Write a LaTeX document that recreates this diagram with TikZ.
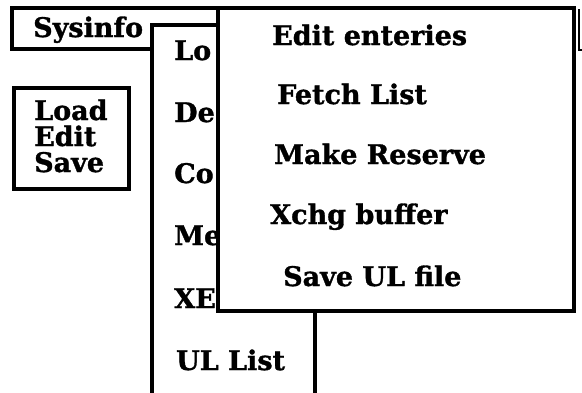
\documentclass[tikz,border=0pt]{standalone}
\usepackage{fontspec}
\setmainfont{DejaVu Serif}[BoldFeatures={FakeBold=1.2}]
\begin{document}
\begin{tikzpicture}[x=1pt,y=-1pt,
  box/.style={draw=black,fill=white,line width=4pt},
  lbl/.style={anchor=base west,inner sep=0pt,font=\fontsize{27}{26}\selectfont\bfseries}]
\useasboundingbox (0,0) rectangle (582,392);
\clip (0,0) rectangle (582,392);
\fill[white] (0,0) rectangle (582,392);
% menu bar
\fill[white] (12,8) rectangle (580,49);
\draw[line width=4pt] (300,8) -- (12,8) -- (12,49) -- (300,49);
\draw[line width=1.2pt] (579,9) -- (579,50) -- (582,50);
\node[lbl] (sys) at (33,37) {Sysinfo};
% load/edit/save box
\draw[box] (14,88) rectangle (129,189);
\node[lbl] (l1) at (34,120) {Load};
\node[lbl] (l2) at (34,146) {Edit};
\node[lbl] (l3) at (34,172) {Save};
% dropdown
\draw[box] (152,25) rectangle (315,420);
\node[lbl] (d1) at (174,60) {Lo};
\node[lbl] (d2) at (174,122) {De};
\node[lbl] (d3) at (174,183) {Co};
\node[lbl] (d4) at (174,245) {Me};
\node[lbl] (d5) at (174,308) {XE};
\node[lbl] (d6) at (176,370) {UL List};
% sub menu
\draw[box] (218,8) rectangle (574,311);
\node[lbl] (s1) at (272,45) {Edit enteries};
\node[lbl] (s2) at (277,104) {Fetch List};
\node[lbl] (s3) at (274,164) {Make Reserve};
\node[lbl] (s4) at (270,224) {Xchg buffer};
\node[lbl] (s5) at (283,286) {Save UL file};
\end{tikzpicture}
\end{document}
